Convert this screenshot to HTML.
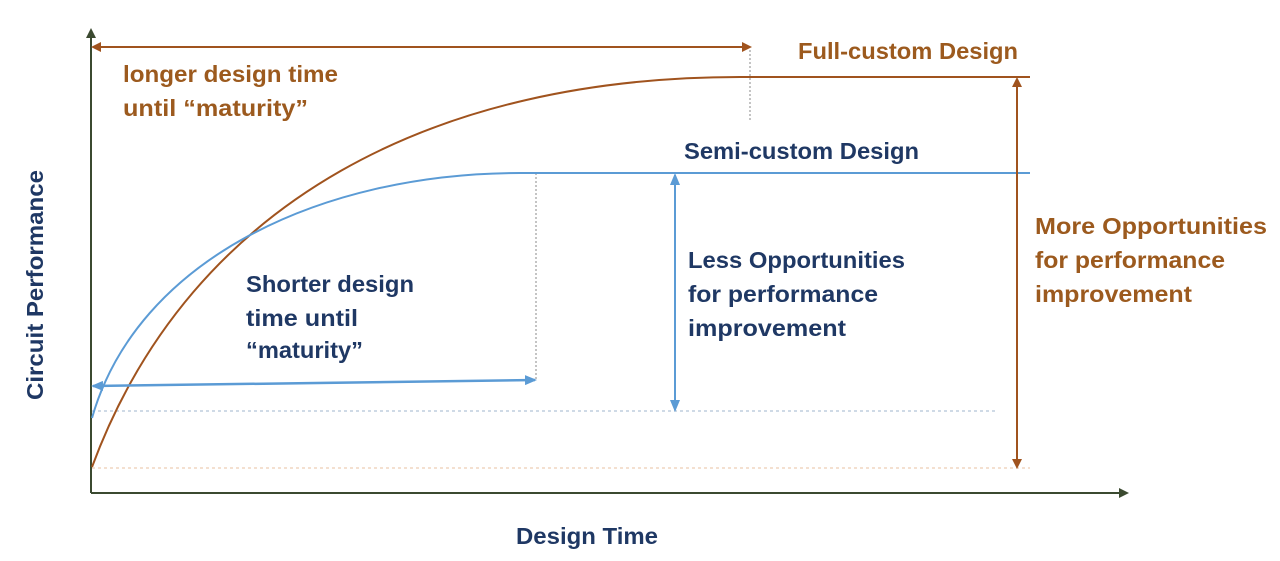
<!DOCTYPE html>
<html><head><meta charset="utf-8"><style>
html,body{margin:0;padding:0;background:#fff;width:1280px;height:561px;overflow:hidden}
text{font-family:"Liberation Sans",sans-serif;font-weight:bold;font-size:23px}
.b{fill:#9c5a1e}.n{fill:#1f3864}
</style></head><body>
<svg width="1280" height="561" viewBox="0 0 1280 561" xmlns="http://www.w3.org/2000/svg">
<defs>
<marker id="ag" markerWidth="10" markerHeight="10" refX="8" refY="5" orient="auto" markerUnits="userSpaceOnUse"><path d="M0,0 L10,5 L0,10 z" fill="#3b4a30"/></marker>
<marker id="ab" markerWidth="10" markerHeight="10" refX="8" refY="5" orient="auto-start-reverse" markerUnits="userSpaceOnUse"><path d="M0,0 L10,5 L0,10 z" fill="#a0531e"/></marker>
<marker id="al" markerWidth="12" markerHeight="10" refX="10" refY="5" orient="auto-start-reverse" markerUnits="userSpaceOnUse"><path d="M0,0 L12,5 L0,10 z" fill="#5b9bd5"/></marker>
</defs>
<line x1="92" y1="411" x2="995" y2="411" stroke="#9fb4cc" stroke-width="1" stroke-dasharray="3,3"/>
<line x1="92" y1="468" x2="1030" y2="468" stroke="#e8c0a0" stroke-width="1" stroke-dasharray="3,3"/>
<line x1="750" y1="50" x2="750" y2="120" stroke="#888" stroke-width="1" stroke-dasharray="2,2"/>
<line x1="536" y1="173" x2="536" y2="380" stroke="#888" stroke-width="1" stroke-dasharray="2,2"/>
<line x1="91" y1="493" x2="91" y2="30" stroke="#3b4a30" stroke-width="2" marker-end="url(#ag)"/>
<line x1="91" y1="493" x2="1127" y2="493" stroke="#3b4a30" stroke-width="2" marker-end="url(#ag)"/>
<path d="M92,467 C192,197 440,77 740,77 L1030,77" fill="none" stroke="#a0531e" stroke-width="2"/>
<path d="M92,418 C137,260 320,173 520,173 L1030,173" fill="none" stroke="#5b9bd5" stroke-width="2"/>
<line x1="93" y1="47" x2="750" y2="47" stroke="#a0531e" stroke-width="2" marker-start="url(#ab)" marker-end="url(#ab)"/>
<line x1="1017" y1="79" x2="1017" y2="467" stroke="#a0531e" stroke-width="2" marker-start="url(#ab)" marker-end="url(#ab)"/>
<line x1="93" y1="386" x2="535" y2="380" stroke="#5b9bd5" stroke-width="2.5" marker-start="url(#al)" marker-end="url(#al)"/>
<line x1="675" y1="175" x2="675" y2="410" stroke="#5b9bd5" stroke-width="2" marker-start="url(#al)" marker-end="url(#al)"/>
<text class="b" x="798" y="59" textLength="220" lengthAdjust="spacingAndGlyphs">Full-custom Design</text>
<text class="b" x="123" y="82" textLength="215" lengthAdjust="spacingAndGlyphs">longer design time</text>
<text class="b" x="123" y="116" textLength="185" lengthAdjust="spacingAndGlyphs">until “maturity”</text>
<text class="n" x="684" y="159" textLength="235" lengthAdjust="spacingAndGlyphs">Semi-custom Design</text>
<text class="n" x="246" y="292" textLength="168" lengthAdjust="spacingAndGlyphs">Shorter design</text>
<text class="n" x="246" y="326" textLength="112" lengthAdjust="spacingAndGlyphs">time until</text>
<text class="n" x="246" y="358" textLength="117" lengthAdjust="spacingAndGlyphs">“maturity”</text>
<text class="n" x="688" y="268" textLength="217" lengthAdjust="spacingAndGlyphs">Less Opportunities</text>
<text class="n" x="688" y="302" textLength="190" lengthAdjust="spacingAndGlyphs">for performance</text>
<text class="n" x="688" y="336" textLength="158" lengthAdjust="spacingAndGlyphs">improvement</text>
<text class="b" x="1035" y="234" textLength="232" lengthAdjust="spacingAndGlyphs">More Opportunities</text>
<text class="b" x="1035" y="268" textLength="190" lengthAdjust="spacingAndGlyphs">for performance</text>
<text class="b" x="1035" y="302" textLength="157" lengthAdjust="spacingAndGlyphs">improvement</text>
<text class="n" x="516" y="544" textLength="142" lengthAdjust="spacingAndGlyphs">Design Time</text>
<text class="n" x="0" y="0" transform="translate(43,400) rotate(-90)" textLength="230" lengthAdjust="spacingAndGlyphs">Circuit Performance</text>
</svg>
</body></html>
